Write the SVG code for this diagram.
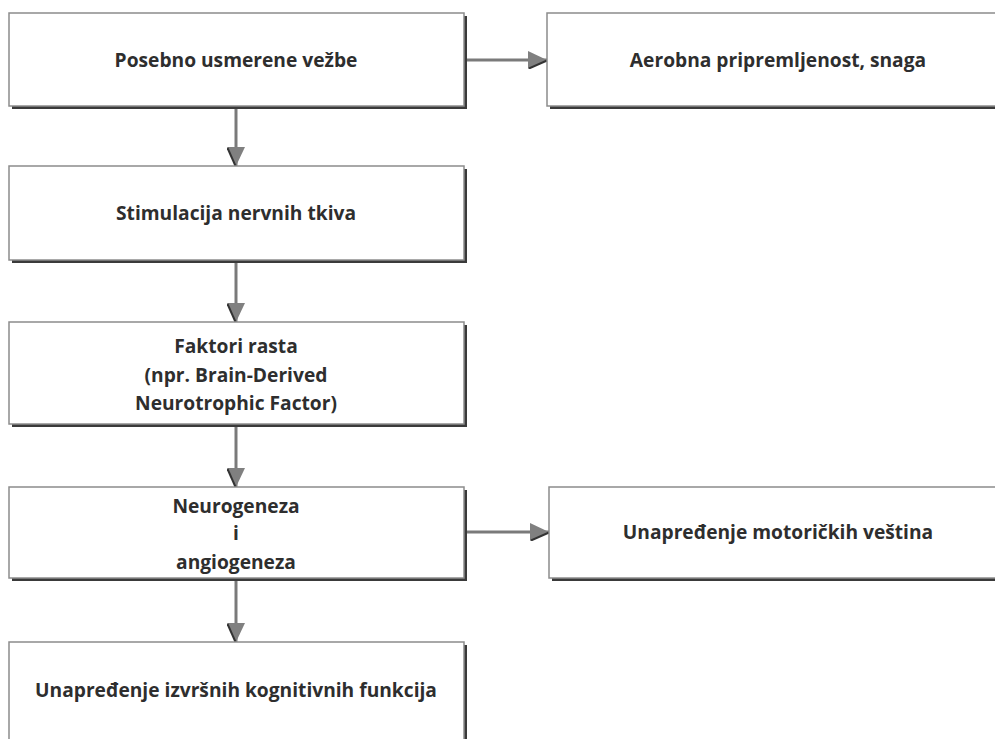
<svg xmlns="http://www.w3.org/2000/svg" width="995" height="739" viewBox="0 0 995 739">
<style>
.sh{fill:#3a3a3a}
.bx{fill:#fff;stroke:#8c8c8c;stroke-width:1.5}
.t{font-family:"Open Sans","Noto Sans","DejaVu Sans",sans-serif;font-weight:bold;font-size:19.2px;fill:#2e2e2e;text-anchor:middle}
.c{stroke:#7a7a7a;stroke-width:3;fill:none}
</style>
<defs>
<marker id="ah" viewBox="0 0 20 18" refX="19" refY="9" markerWidth="20" markerHeight="18" markerUnits="userSpaceOnUse" orient="auto">
<path d="M0,0 L19,9 L0,18 Z" fill="#808080"/>
<path d="M1,17.5 L19,9.5" stroke="#333" stroke-width="2"/>
</marker>
</defs>
<rect width="995" height="739" fill="#fff"/>
<g id="connectors">
<line class="c" x1="464" y1="60" x2="547" y2="60" marker-end="url(#ah)"/>
<line class="c" x1="236" y1="106" x2="236" y2="166" marker-end="url(#ah)"/>
<line class="c" x1="236" y1="260" x2="236" y2="322" marker-end="url(#ah)"/>
<line class="c" x1="236" y1="425" x2="236" y2="487" marker-end="url(#ah)"/>
<line class="c" x1="464" y1="532" x2="549" y2="532" marker-end="url(#ah)"/>
<line class="c" x1="236" y1="578" x2="236" y2="642" marker-end="url(#ah)"/>
</g>
<g id="n1">
<rect class="sh" x="12" y="16" width="455" height="93"/>
<rect class="bx" x="9" y="13" width="455" height="93"/>
<text class="t" x="236" y="67">Posebno usmerene vežbe</text>
</g>
<g id="n2">
<rect class="sh" x="550" y="16" width="450" height="93"/>
<rect class="bx" x="547" y="13" width="450" height="93"/>
<text class="t" x="778" y="67">Aerobna pripremljenost, snaga</text>
</g>
<g id="n3">
<rect class="sh" x="12" y="169" width="455" height="94"/>
<rect class="bx" x="9" y="166" width="455" height="94"/>
<text class="t" x="236" y="220">Stimulacija nervnih tkiva</text>
</g>
<g id="n4">
<rect class="sh" x="12" y="325" width="455" height="102"/>
<rect class="bx" x="9" y="322" width="455" height="102"/>
<text class="t" x="236" y="353">Faktori rasta</text>
<text class="t" x="236" y="382">(npr. Brain-Derived</text>
<text class="t" x="236" y="410">Neurotrophic Factor)</text>
</g>
<g id="n5">
<rect class="sh" x="12" y="490" width="455" height="91"/>
<rect class="bx" x="9" y="487" width="455" height="91"/>
<text class="t" x="236" y="513">Neurogeneza</text>
<text class="t" x="236" y="540">i</text>
<text class="t" x="236" y="569">angiogeneza</text>
</g>
<g id="n6">
<rect class="sh" x="552" y="490" width="450" height="91"/>
<rect class="bx" x="549" y="487" width="450" height="91"/>
<text class="t" x="778" y="539">Unapređenje motoričkih veština</text>
</g>
<g id="n7">
<rect class="sh" x="12" y="645" width="455" height="100"/>
<rect class="bx" x="9" y="642" width="455" height="100"/>
<text class="t" x="236" y="697">Unapređenje izvršnih kognitivnih funkcija</text>
</g>
</svg>
